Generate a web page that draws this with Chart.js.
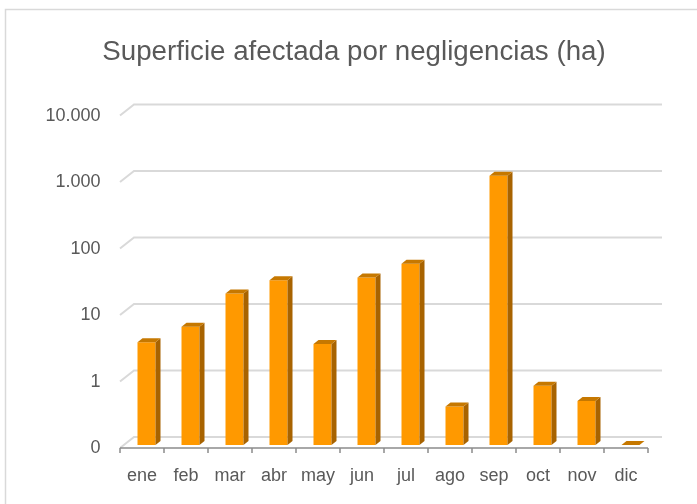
<!DOCTYPE html>
<html><head><meta charset="utf-8">
<script src="https://cdn.jsdelivr.net/npm/chart.js@4"></script>
<style>html,body{margin:0;padding:0;background:#fff;} #wrap{position:relative;width:697px;height:504px;} canvas{display:block}</style>
</head><body><div id="wrap"><canvas id="c" width="697" height="504"></canvas></div>
<script>
const categories = ['ene','feb','mar','abr','may','jun','jul','ago','sep','oct','nov','dic'];
const superficieHa = [3.5, 6, 19, 30, 3.3, 33, 53, 0.38, 1120, 0.78, 0.46, 0.1];
const yTickValues = [0.1, 1, 10, 100, 1000, 10000];
const yTickLabels = ['0', '1', '10', '100', '1.000', '10.000'];
const chartTitle = 'Superficie afectada por negligencias (ha)';

const FONT = "'Liberation Sans', Arial, sans-serif";
const TEXT = '#595959';
// 3D geometry (pixels)
const FRONT_DX = -4.5, FRONT_DY = 3;   // bar plane -> front plane
const WALL_DX = 9.5, WALL_DY = -8;     // bar plane -> back wall
const DEPTH_X = 5, DEPTH_Y = 4;        // bar depth
const TITLE_CENTER_X = 354;

const threeD = {
  id: 'threeD',
  afterLayout(chart) {
    const tb = chart.titleBlock;
    if (tb) {
      const half = Math.min(tb.right - TITLE_CENTER_X, TITLE_CENTER_X - tb.left, 320);
      tb.left = TITLE_CENTER_X - half;
      tb.right = TITLE_CENTER_X + half;
      tb.width = tb.right - tb.left;
    }
  },
  beforeDraw(chart) {
    const ctx = chart.ctx;
    ctx.save();
    ctx.strokeStyle = '#D9D9D9';
    ctx.lineWidth = 1.5;
    ctx.beginPath();
    ctx.moveTo(5.5, 504); ctx.lineTo(5.5, 9.5); ctx.lineTo(697, 9.5);
    ctx.stroke();
    ctx.restore();
  },
  beforeDatasetsDraw(chart) {
    const ctx = chart.ctx, ys = chart.scales.y, a = chart.chartArea;
    ctx.save();
    ctx.strokeStyle = '#D9D9D9';
    ctx.lineWidth = 2;
    ys.ticks.forEach(t => {
      const py = ys.getPixelForValue(t.value);
      ctx.beginPath();
      ctx.moveTo(a.left + FRONT_DX, py + FRONT_DY);
      ctx.lineTo(a.left + WALL_DX, py + WALL_DY);
      ctx.lineTo(a.right + WALL_DX, py + WALL_DY);
      ctx.stroke();
    });
    ctx.strokeStyle = '#8C8C8C';
    ctx.lineWidth = 1.5;
    const fy = a.bottom + FRONT_DY;
    ctx.beginPath();
    ctx.moveTo(a.left + FRONT_DX, fy);
    ctx.lineTo(a.right + FRONT_DX, fy);
    const n = categories.length;
    for (let i = 0; i <= n; i++) {
      const tx = a.left + (a.right - a.left) * i / n + FRONT_DX;
      ctx.moveTo(tx, fy);
      ctx.lineTo(tx, fy + 5);
    }
    ctx.stroke();
    ctx.restore();
  },
  afterDatasetsDraw(chart) {
    const ctx = chart.ctx;
    const meta = chart.getDatasetMeta(0);
    ctx.save();
    meta.data.forEach(bar => {
      const p = bar.getProps(['x', 'y', 'base', 'width'], true);
      const l = p.x - p.width / 2, r = p.x + p.width / 2, top = p.y, base = p.base;
      ctx.fillStyle = '#A86300';
      ctx.beginPath();
      ctx.moveTo(r, top); ctx.lineTo(r + DEPTH_X, top - DEPTH_Y);
      ctx.lineTo(r + DEPTH_X, base - DEPTH_Y); ctx.lineTo(r, base);
      ctx.closePath(); ctx.fill();
      ctx.fillStyle = '#C67800';
      ctx.beginPath();
      ctx.moveTo(l, top); ctx.lineTo(l + DEPTH_X, top - DEPTH_Y);
      ctx.lineTo(r + DEPTH_X, top - DEPTH_Y); ctx.lineTo(r, top);
      ctx.closePath(); ctx.fill();
    });
    ctx.restore();
  }
};

new Chart(document.getElementById('c'), {
  type: 'bar',
  data: {
    labels: categories,
    datasets: [{
      data: superficieHa,
      backgroundColor: '#FF9900',
      borderWidth: 0,
      barPercentage: 18 / 44,
      categoryPercentage: 1
    }]
  },
  options: {
    responsive: false,
    animation: false,
    events: [],
    layout: { padding: { left: 0, right: 44.5, top: 0, bottom: 0 } },
    plugins: {
      legend: { display: false },
      tooltip: { enabled: false },
      title: {
        display: true,
        text: chartTitle,
        color: TEXT,
        font: { family: FONT, size: 27.7, weight: 'normal' },
        padding: { top: 35.3, bottom: 43.9 }
      }
    },
    scales: {
      x: {
        grid: { display: false, drawTicks: false },
        border: { display: false },
        afterFit(s) { s.height = 59; },
        ticks: {
          padding: 20.5, labelOffset: FRONT_DX, color: TEXT,
          font: { family: FONT, size: 18 }, maxRotation: 0, autoSkip: false
        }
      },
      y: {
        type: 'logarithmic',
        min: yTickValues[0],
        max: yTickValues[yTickValues.length - 1],
        afterBuildTicks(s) { s.ticks = yTickValues.map(v => ({ value: v })); },
        afterFit(s) { s.width = 124.5; },
        grid: { display: false, drawTicks: false },
        border: { display: false },
        ticks: {
          padding: 24, labelOffset: FRONT_DY + 0.5, color: TEXT, autoSkip: false,
          font: { family: FONT, size: 18 },
          callback: (v) => yTickLabels[yTickValues.indexOf(v)]
        }
      }
    }
  },
  plugins: [threeD]
});
</script>
</body></html>
